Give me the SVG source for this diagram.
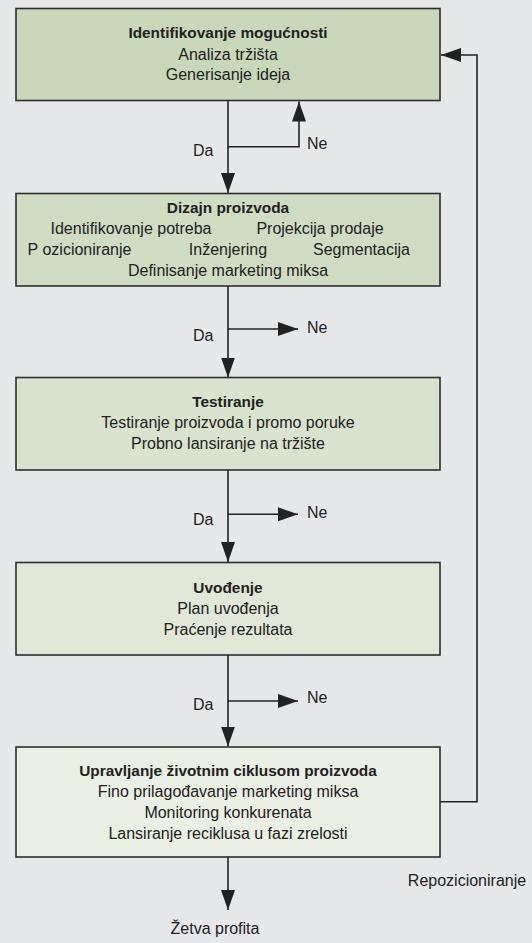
<svg xmlns="http://www.w3.org/2000/svg" width="532" height="943" viewBox="0 0 532 943">
<defs>
<style>
.bg{fill:#e6e7e9}
.box{stroke:#2e2e2e;stroke-width:1.6}
.b1{fill:#c9d7b9}.b2{fill:#cfdcc2}.b3{fill:#d8e2cc}.b4{fill:#e0e7d6}.b5{fill:#e9efe2}
text{font-family:"Liberation Sans",Arial,sans-serif;font-size:16px;fill:#222}
.t{font-weight:bold;font-size:15.4px}
.c{text-anchor:middle}
.ln{fill:none;stroke:#222;stroke-width:1.6;marker-end:url(#ah)}
</style>
<marker id="ah" markerUnits="userSpaceOnUse" markerWidth="20" markerHeight="14" refX="20" refY="7" orient="auto" viewBox="0 0 20 14">
<path d="M0,0 L20,7 L0,14 z" fill="#222"/>
</marker>
</defs>
<rect class="bg" x="0" y="0" width="532" height="943"/>
<g id="connectors">
<path class="ln" d="M228,101 V193"/>
<path class="ln" d="M228,146.7 H299 V101.5"/>
<path class="ln" d="M228,286 V377.5"/>
<path class="ln" d="M228,329 H298"/>
<path class="ln" d="M228,470 V562"/>
<path class="ln" d="M228,514.3 H298"/>
<path class="ln" d="M228,655 V746.5"/>
<path class="ln" d="M228,701 H298"/>
<path class="ln" d="M228,857 V910"/>
<path class="ln" d="M440,801.7 H477 V55 H441"/>
</g>
<g id="labels">
<text x="193" y="156">Da</text>
<text x="307" y="149">Ne</text>
<text x="193" y="340.5">Da</text>
<text x="307" y="333">Ne</text>
<text x="193" y="525">Da</text>
<text x="307" y="518">Ne</text>
<text x="193" y="710">Da</text>
<text x="307" y="702.5">Ne</text>
<text x="467" y="886" class="c">Repozicioniranje</text>
<text x="215" y="934" class="c">Žetva profita</text>
</g>
<g id="n1">
<rect class="box b1" x="16" y="8.5" width="424" height="92"/>
<text class="t c" x="228" y="38">Identifikovanje mogućnosti</text>
<text class="c" x="228" y="59.5">Analiza tržišta</text>
<text class="c" x="228" y="80">Generisanje ideja</text>
</g>
<g id="n2">
<rect class="box b2" x="16" y="193.5" width="424" height="92.5"/>
<text class="t c" x="228" y="213">Dizajn proizvoda</text>
<text class="c" x="131" y="234">Identifikovanje potreba</text>
<text class="c" x="320" y="234">Projekcija prodaje</text>
<text class="c" x="79.5" y="255">P ozicioniranje</text>
<text class="c" x="228" y="255">Inženjering</text>
<text class="c" x="361.5" y="255">Segmentacija</text>
<text class="c" x="228" y="275.5">Definisanje marketing miksa</text>
</g>
<g id="n3">
<rect class="box b3" x="16" y="377.5" width="424" height="92.5"/>
<text class="t c" x="228" y="406.5">Testiranje</text>
<text class="c" x="228" y="427.5">Testiranje proizvoda i promo poruke</text>
<text class="c" x="228" y="448.5">Probno lansiranje na tržište</text>
</g>
<g id="n4">
<rect class="box b4" x="16" y="562.5" width="424" height="92.5"/>
<text class="t c" x="228" y="592.5">Uvođenje</text>
<text class="c" x="228" y="613.5">Plan uvođenja</text>
<text class="c" x="228" y="634.5">Praćenje rezultata</text>
</g>
<g id="n5">
<rect class="box b5" x="16" y="747" width="424" height="110"/>
<text class="t c" x="228" y="776">Upravljanje životnim ciklusom proizvoda</text>
<text class="c" x="228" y="796.5">Fino prilagođavanje marketing miksa</text>
<text class="c" x="228" y="817.5">Monitoring konkurenata</text>
<text class="c" x="228" y="838.5">Lansiranje reciklusa u fazi zrelosti</text>
</g>
</svg>
